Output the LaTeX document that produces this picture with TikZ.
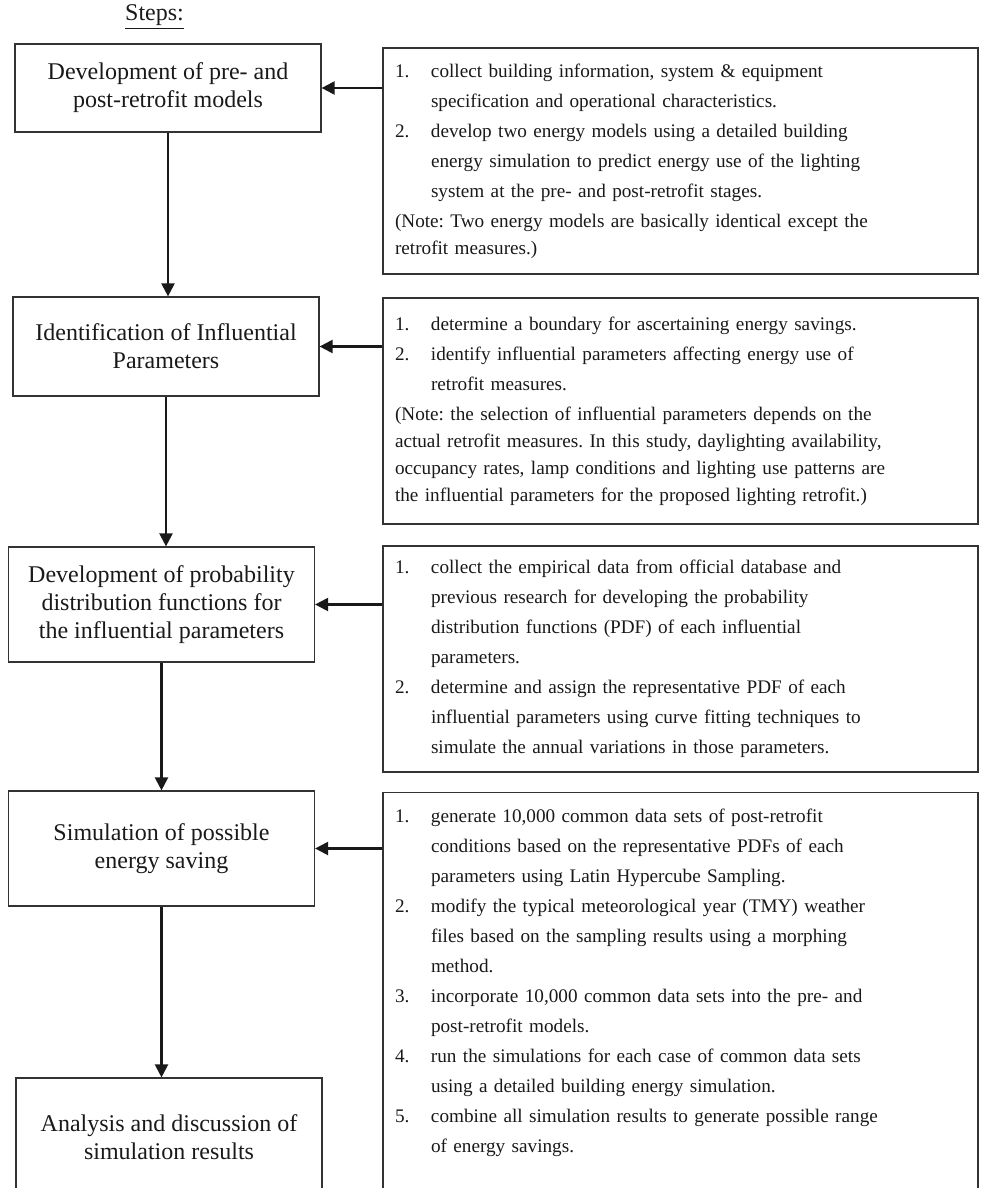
\documentclass[tikz,border=0pt]{standalone}
\usepackage{fontspec}
\setmainfont{Liberation Serif}
\usetikzlibrary{arrows.meta}

\newcommand{\listno}[2]{\hangindent=18pt\hangafter=1\noindent\makebox[18pt][l]{#1}#2\par}
\newcommand{\notetext}[1]{\vspace{1.5pt}{\baselineskip=13.5pt\noindent #1\par}}

\tikzset{
	stepbox/.style = {draw = black!80, line width = 0.6pt, minimum width = 153pt, align = center, inner sep = 0pt, font = \fontsize{12}{14}\selectfont},
	detailbox/.style = {draw = black!80, line width = 0.6pt, text width = 285.5pt, inner xsep = 6pt, inner ysep = 0pt, minimum height = 113pt, font = \fontsize{9.6}{15}\selectfont\frenchspacing},
	flow/.style = {->, > = {Triangle[length = 6.5pt, width = 6.5pt]}, line width = 1.1pt, color = black!90}
}

\begin{document}
\begin{tikzpicture}[x = 0.5pt, y = -0.5pt, color = black!90]
	\useasboundingbox (0,0) rectangle (980,1188);
	\clip (0,0) rectangle (980,1188);
	\node [inner sep = 0pt, font = \fontsize{12}{14}\selectfont] (steps) at (154.5,17) {\underline{Steps:}};
	% steps on the left
	\node [stepbox, minimum height = 44pt] (s1) at (168,88) {Development of pre- and\\post-retrofit models};
	\node [stepbox, minimum height = 49.5pt] (s2) at (166,346.5) {Identification of Influential\\Parameters};
	\node [stepbox, minimum height = 57.5pt] (s3) at (161.5,604.5) {Development of probability\\distribution functions for\\the influential parameters};
	\node [stepbox, minimum height = 57.5pt] (s4) at (161.5,848.5) {Simulation of possible\\energy saving};
	\node [stepbox, minimum height = 59pt] (s5) at (169,1137) {Analysis and discussion of\\simulation results};
	% details on the right
	\node [detailbox] (d1) at (680.5,161) {%
		\listno{1.}{collect building information, system \& equipment\newline specification and operational characteristics.}
		\listno{2.}{develop two energy models using a detailed building\newline energy simulation to predict energy use of the lighting\newline system at the pre- and post-retrofit stages.}
		\notetext{(Note: Two energy models are basically identical except the\newline retrofit measures.)}};
	\node [detailbox] (d2) at (680.5,411) {%
		\listno{1.}{determine a boundary for ascertaining energy savings.}
		\listno{2.}{identify influential parameters affecting energy use of\newline retrofit measures.}
		\notetext{(Note: the selection of influential parameters depends on the\newline actual retrofit measures. In this study, daylighting availability,\newline occupancy rates, lamp conditions and lighting use patterns are\newline the influential parameters for the proposed lighting retrofit.)}};
	\node [detailbox] (d3) at (680.5,659) {%
		\listno{1.}{collect the empirical data from official database and\newline previous research for developing the probability\newline distribution functions (PDF) of each influential\newline parameters.}
		\listno{2.}{determine and assign the representative PDF of each\newline influential parameters using curve fitting techniques to\newline simulate the annual variations in those parameters.}};
	\node [detailbox, anchor = north, minimum height = 0pt, inner ysep = 8pt] (d4) at (680.5,792) {%
		\listno{1.}{generate 10,000 common data sets of post-retrofit\newline conditions based on the representative PDFs of each\newline parameters using Latin Hypercube Sampling.}
		\listno{2.}{modify the typical meteorological year (TMY) weather\newline files based on the sampling results using a morphing\newline method.}
		\listno{3.}{incorporate 10,000 common data sets into the pre- and\newline post-retrofit models.}
		\listno{4.}{run the simulations for each case of common data sets\newline using a detailed building energy simulation.}
		\listno{5.}{combine all simulation results to generate possible range\newline of energy savings.}
		\noindent\rule{0pt}{40pt}};
	% arrows
	\foreach \a/\b in {s1/s2, s2/s3, s3/s4, s4/s5}
	\draw [flow] (\a.south) -- (\a.south |- \b.north);
	\foreach \i in {1,2,3,4}
	\draw [flow] (d\i.west |- s\i) -- (s\i);
\end{tikzpicture}
\end{document}
